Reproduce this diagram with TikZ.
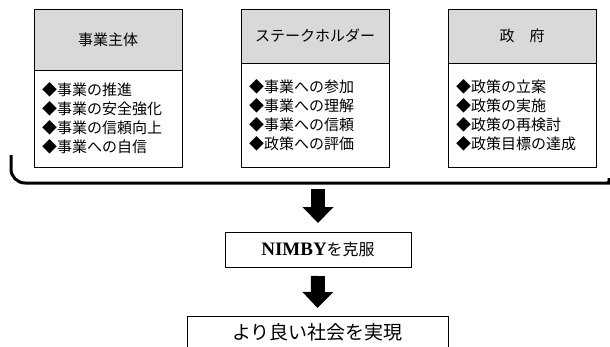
\documentclass[tikz,border=0pt]{standalone}
\usepackage{fontspec}
\setmainfont{Noto Sans CJK JP}
\newfontfamily\latinser{Liberation Serif}
\usetikzlibrary{arrows.meta}
\definecolor{hdrgray}{HTML}{D9D9D9}
\tikzset{
 boxline/.style={draw=black, line width=0.8pt, inner sep=0pt, outer sep=0pt},
 header/.style={boxline, fill=hdrgray, minimum width=148pt, anchor=north west, font=\fontsize{15pt}{18pt}\selectfont},
 body/.style={boxline, fill=white, text width=132pt, inner xsep=8pt, inner ysep=0pt, align=left, anchor=north west, font=\fontsize{15pt}{19pt}\selectfont},
 bigarrow/.style={line width=14pt, -{Triangle[width=30pt,length=16pt]}},
 bracket/.style={line width=3pt, rounded corners=14pt},
 flowbox/.style={boxline}
}
\begin{document}
\begin{tikzpicture}[x=1pt,y=-1pt]
\useasboundingbox[fill=white] (0,0) rectangle (610,346);
% box 1
\node[header, minimum height=61pt] (h1) at (34,9) {事業主体};
\node[body, minimum height=97pt] (b1) at (34,70) {◆事業の推進\\◆事業の安全強化\\◆事業の信頼向上\\◆事業への自信};
% box 2
\node[header, minimum height=54pt] (h2) at (241,9) {ステークホルダー};
\node[body, minimum height=104pt] (b2) at (241,63) {◆事業への参加\\◆事業への理解\\◆事業への信頼\\◆政策への評価};
% box 3
\node[header, minimum height=54pt] (h3) at (448,9) {政　府};
\node[body, minimum height=104pt] (b3) at (448,63) {◆政策の立案\\◆政策の実施\\◆政策の再検討\\◆政策目標の達成};
% bracket
\draw[bracket] (11,155) -- (11,183) -- (606,183) [rounded corners=2pt] -- (609,183) -- (609,178);
\coordinate (brk) at (318,189);
% nimby
\node[flowbox, minimum width=186pt, minimum height=35pt, font=\fontsize{16pt}{18pt}\selectfont] (nimby) at (318,249.5) {{\latinser\bfseries\fontsize{19pt}{20pt}\selectfont NIMBY}を克服};
% goal
\node[flowbox, anchor=north, minimum width=261pt, text height=14pt, text depth=4pt, inner ysep=9pt, font=\fontsize{19pt}{21pt}\selectfont] (goal) at (317.5,316) {より良い社会を実現};
% arrows
\draw[bigarrow] (brk) -- ([yshift=9pt]nimby.north);
\draw[bigarrow] ([yshift=-9pt]nimby.south) -- ([yshift=8pt]goal.north);
\end{tikzpicture}
\end{document}
